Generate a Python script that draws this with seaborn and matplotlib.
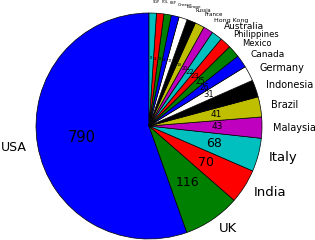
import matplotlib
matplotlib.use("Agg")
import matplotlib.pyplot as plt
import seaborn as sns

# slices go counter-clockwise from the top
countries = ['USA', 'UK', 'India', 'Italy', 'Malaysia', 'Brazil', 'Indonesia',
             'Germany', 'Canada', 'Mexico', 'Philippines', 'Australia',
             'Hong Kong', 'France', 'Russia', 'Europe', 'Greece', 'KSP', 'POL', 'SGP']
counts = [790, 116, 70, 68, 43, 41, 35, 31, 26, 25, 23, 22, 20, 19, 18, 17, 16, 15, 15, 15]

# font sizes shrink with the slice
name_sizes = [9, 9.5, 9.5, 9.5, 7, 7, 7, 7, 6.5, 6, 6, 6.5, 4.5, 4, 3.5, 3, 3, 2.5, 2.5, 2.5]
count_sizes = [10.5, 9, 9, 9, 6.5, 6.5, 6.5, 6, 5.5, 5.5, 5, 5, 3.5, 3, 3, 2.5, 2, 2, 2, 2]

sns.set_theme(style="white", color_codes=False)
plt.rcParams['font.family'] = ['DejaVu Sans']
plt.rcParams['text.color'] = 'black'

total = sum(counts)
# classic matplotlib single-letter colours b g r c m y k w
base = [(0, 0, 1), (0, 0.5, 0), (1, 0, 0), (0, 0.75, 0.75),
        (0.75, 0, 0.75), (0.75, 0.75, 0), (0, 0, 0), (1, 1, 1)]
colors = [base[i % len(base)] for i in range(len(counts))]

fig = plt.figure(figsize=(3.15, 2.4), dpi=100)
cx, cy, r = 149 / 315, (240 - 126) / 240, 113
ax = fig.add_axes([cx - r / 315, cy - r / 240, 2 * r / 315, 2 * r / 240])

wedges, labels, nums = ax.pie(
    counts, labels=countries, colors=colors, startangle=90, counterclock=True,
    autopct=lambda p: '%d' % round(p * total / 100.0),
    labeldistance=1.1, pctdistance=0.6,
    wedgeprops={'edgecolor': 'black', 'linewidth': 0.5},
    textprops={'color': 'black'})

for t, s in zip(labels, name_sizes):
    t.set_fontsize(s)
    t.set_clip_on(False)
for t, s in zip(nums, count_sizes):
    t.set_fontsize(s)

ax.set_xlim(-1, 1)
ax.set_ylim(-1, 1)
ax.set_aspect('auto')
ax.axis('off')

fig.savefig('out.png', dpi=100)
